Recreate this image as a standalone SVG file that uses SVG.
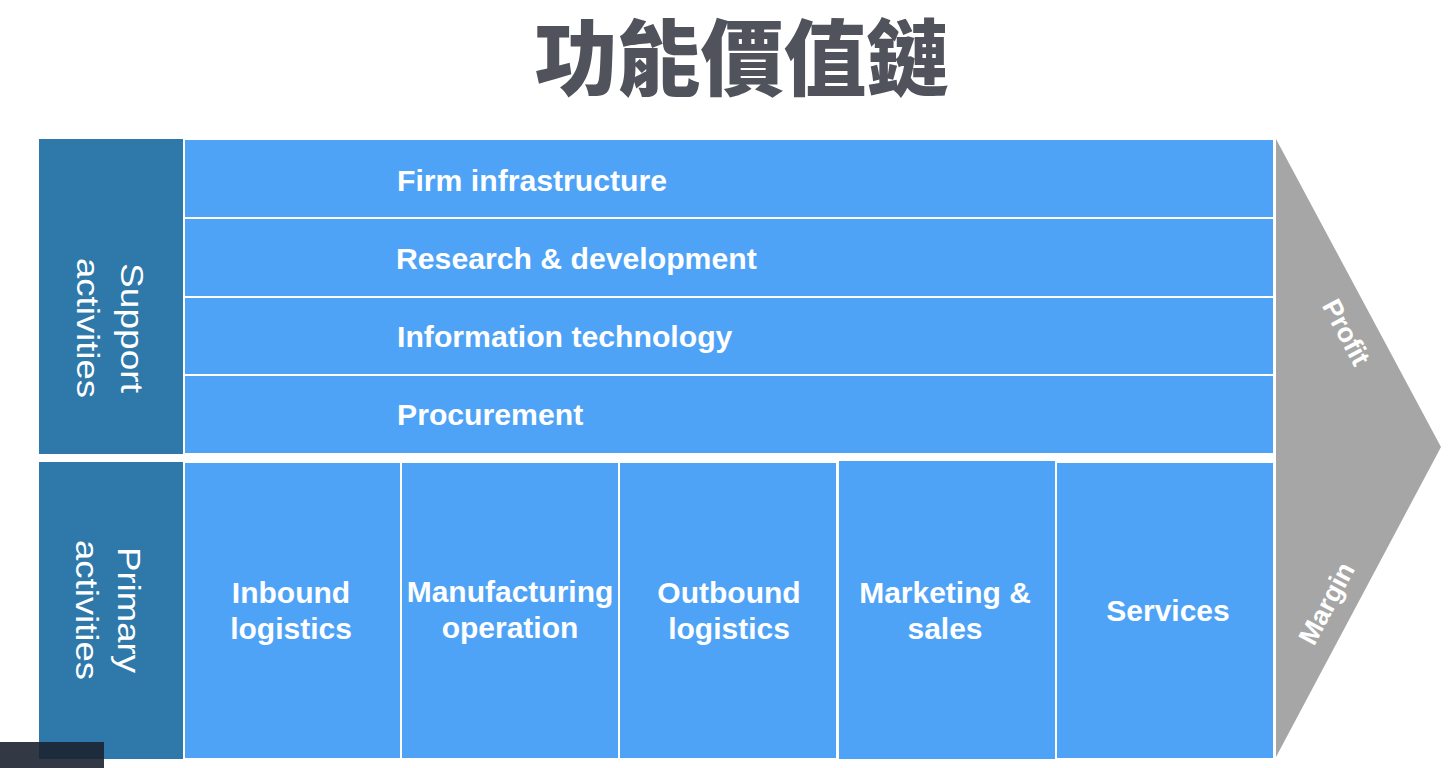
<svg xmlns="http://www.w3.org/2000/svg" width="1456" height="768" viewBox="0 0 1456 768">
<style>
.cell{fill:#4fa3f6;stroke:#ffffff;stroke-width:2}
.side{fill:#2e78aa}
.lbl{font-family:"Liberation Sans",Arial,sans-serif;font-weight:bold;font-size:30px;fill:#ffffff}
.sup{font-size:30.2px}
.mid{text-anchor:middle}
.vlbl{font-family:"Liberation Sans",Arial,sans-serif;font-size:31px;fill:#ffffff;text-anchor:middle}
.arr{font-family:"Liberation Sans",Arial,sans-serif;font-weight:bold;font-size:27px;fill:#ffffff;text-anchor:middle}
</style>
<rect width="1456" height="768" fill="#ffffff"/>
<g id="title">
<text x="742" y="89" text-anchor="middle" font-family="'Noto Sans CJK TC','Noto Sans CJK SC',sans-serif" font-weight="900" font-size="83" fill="#50535b">功能價值鏈</text>
</g>
<g id="margin-arrow">
<polygon points="1276,139 1441,447 1276,757" fill="#a6a6a6"/>
<text class="arr" transform="translate(1347,332) rotate(62)" y="10">Profit</text>
<text class="arr" transform="translate(1326,603) rotate(-62)" y="10">Margin</text>
</g>
<g id="support-activities">
<rect class="side" x="39" y="139" width="144" height="315"/>
<g transform="rotate(90)">
<text class="vlbl" x="328" y="-121" textLength="130" lengthAdjust="spacingAndGlyphs">Support</text>
<text class="vlbl" x="328" y="-77" textLength="140" lengthAdjust="spacingAndGlyphs">activities</text>
</g>
</g>
<g id="primary-activities">
<rect class="side" x="39" y="462" width="144" height="297"/>
<g transform="rotate(90)">
<text class="vlbl" x="610" y="-118" textLength="126" lengthAdjust="spacingAndGlyphs">Primary</text>
<text class="vlbl" x="610" y="-76" textLength="140" lengthAdjust="spacingAndGlyphs">activities</text>
</g>
</g>
<g id="firm-infrastructure">
<rect class="cell" x="184" y="139" width="1090" height="79" stroke="#c8d8e8"/>
<text class="lbl sup" x="397" y="191">Firm infrastructure</text>
</g>
<g id="research-development">
<rect class="cell" x="184" y="218" width="1090" height="79"/>
<text class="lbl sup" x="396" y="269">Research &amp; development</text>
</g>
<g id="information-technology">
<rect class="cell" x="184" y="297" width="1090" height="78"/>
<text class="lbl sup" x="397" y="347">Information technology</text>
</g>
<g id="procurement">
<rect class="cell" x="184" y="375" width="1090" height="79"/>
<text class="lbl sup" x="397" y="425">Procurement</text>
</g>
<g id="inbound-logistics">
<rect class="cell" x="184" y="462" width="217" height="297"/>
<text class="lbl mid" x="291" y="603">Inbound</text>
<text class="lbl mid" x="291" y="639">logistics</text>
</g>
<g id="manufacturing-operation">
<rect class="cell" x="401" y="462" width="218" height="297"/>
<text class="lbl mid" x="510" y="602">Manufacturing</text>
<text class="lbl mid" x="510" y="638">operation</text>
</g>
<g id="outbound-logistics">
<rect class="cell" x="619" y="462" width="218" height="297"/>
<text class="lbl mid" x="729" y="603">Outbound</text>
<text class="lbl mid" x="729" y="639">logistics</text>
</g>
<g id="services">
<rect class="cell" x="1056" y="462" width="218" height="297"/>
<text class="lbl mid" x="1168" y="621">Services</text>
</g>
<g id="marketing-sales">
<rect class="cell" x="838" y="460" width="218" height="300" stroke="#a9b8c8" stroke-width="1.5"/>
<text class="lbl mid" x="945" y="603">Marketing &amp;</text>
<text class="lbl mid" x="945" y="639">sales</text>
</g>
<g id="connectors"/>
<g id="overlay">
<rect x="0" y="742" width="104" height="26" fill="#1c2430" opacity="0.9"/>
</g>
</svg>
